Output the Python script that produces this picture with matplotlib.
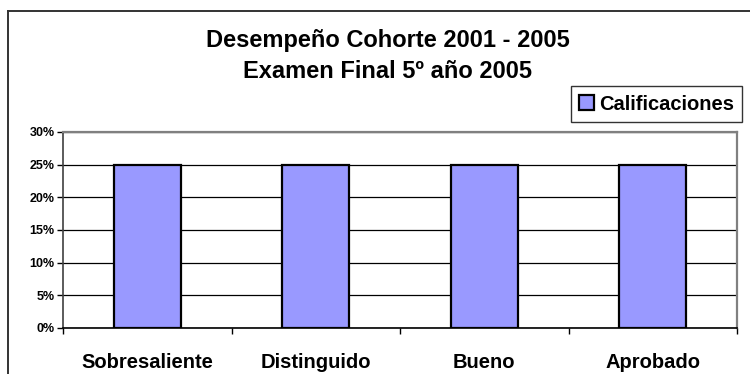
import numpy as np
import matplotlib
matplotlib.use('Agg')
import matplotlib.pyplot as plt
from matplotlib.lines import Line2D
from matplotlib.ticker import FixedLocator, PercentFormatter

categorias = ['Sobresaliente', 'Distinguido', 'Bueno', 'Aprobado']
calificaciones = [25, 25, 25, 25]
y_ticks = [0, 5, 10, 15, 20, 25, 30]
titulo = 'Desempeño Cohorte 2001 - 2005\nExamen Final 5º año 2005'

plt.rcParams['font.family'] = ['Liberation Sans', 'DejaVu Sans']
plt.rcParams['font.weight'] = 'bold'

fig = plt.figure(figsize=(7.5, 3.74), dpi=100)
ax = fig.add_axes([63 / 750, 1 - 328 / 374, 674 / 750, 196 / 374])

x = np.arange(len(categorias))
ax.bar(x, calificaciones, width=0.4, color='#9999FF', edgecolor='black',
       linewidth=1.6, label='Calificaciones', zorder=3)

ax.set_xlim(-0.5, len(categorias) - 0.5)
ax.set_ylim(0, 30)
ax.set_yticks(y_ticks)
ax.yaxis.set_major_formatter(PercentFormatter(decimals=0))
ax.yaxis.grid(True, color='black', linewidth=0.9, zorder=0)

# ticks at category boundaries, labels in the middle
ax.xaxis.set_major_locator(FixedLocator(np.arange(len(categorias) + 1) - 0.5))
ax.xaxis.set_major_formatter(plt.NullFormatter())
ax.xaxis.set_minor_locator(FixedLocator(x))
ax.set_xticklabels(categorias, minor=True)
ax.tick_params(axis='x', which='minor', length=0, pad=18, labelsize=14.5)
ax.tick_params(axis='x', which='major', length=4.5, width=1, direction='out')
ax.tick_params(axis='y', length=4, width=1, direction='out', pad=2, labelsize=9)

for side in ['top', 'right', 'left']:
    ax.spines[side].set_color('#808080')
    ax.spines[side].set_linewidth(1.6)
ax.spines['left'].set_color('#404040')
ax.spines['left'].set_linewidth(1.2)
ax.spines['bottom'].set_color('black')
ax.spines['bottom'].set_linewidth(1.2)

fig.text(0.517, 1 - 56 / 374, titulo, ha='center', va='center',
         fontsize=17, fontweight='bold', linespacing=1.48)

leg = fig.legend(loc='center', bbox_to_anchor=(656.5 / 750, 1 - 104 / 374),
                 fontsize=14.5, frameon=True, fancybox=False, borderpad=0.4,
                 handlelength=0.75, handleheight=0.75, handletextpad=0.25,
                 borderaxespad=0)
leg.get_frame().set_edgecolor('black')
leg.get_frame().set_linewidth(1.0)

# chart border
fig.add_artist(Line2D([8 / 750, 8 / 750], [0, 1 - 11 / 374], color='#333333', lw=1.4))
fig.add_artist(Line2D([8 / 750, 1], [1 - 11 / 374, 1 - 11 / 374], color='#333333', lw=1.4))

fig.savefig('out.png', dpi=100)
